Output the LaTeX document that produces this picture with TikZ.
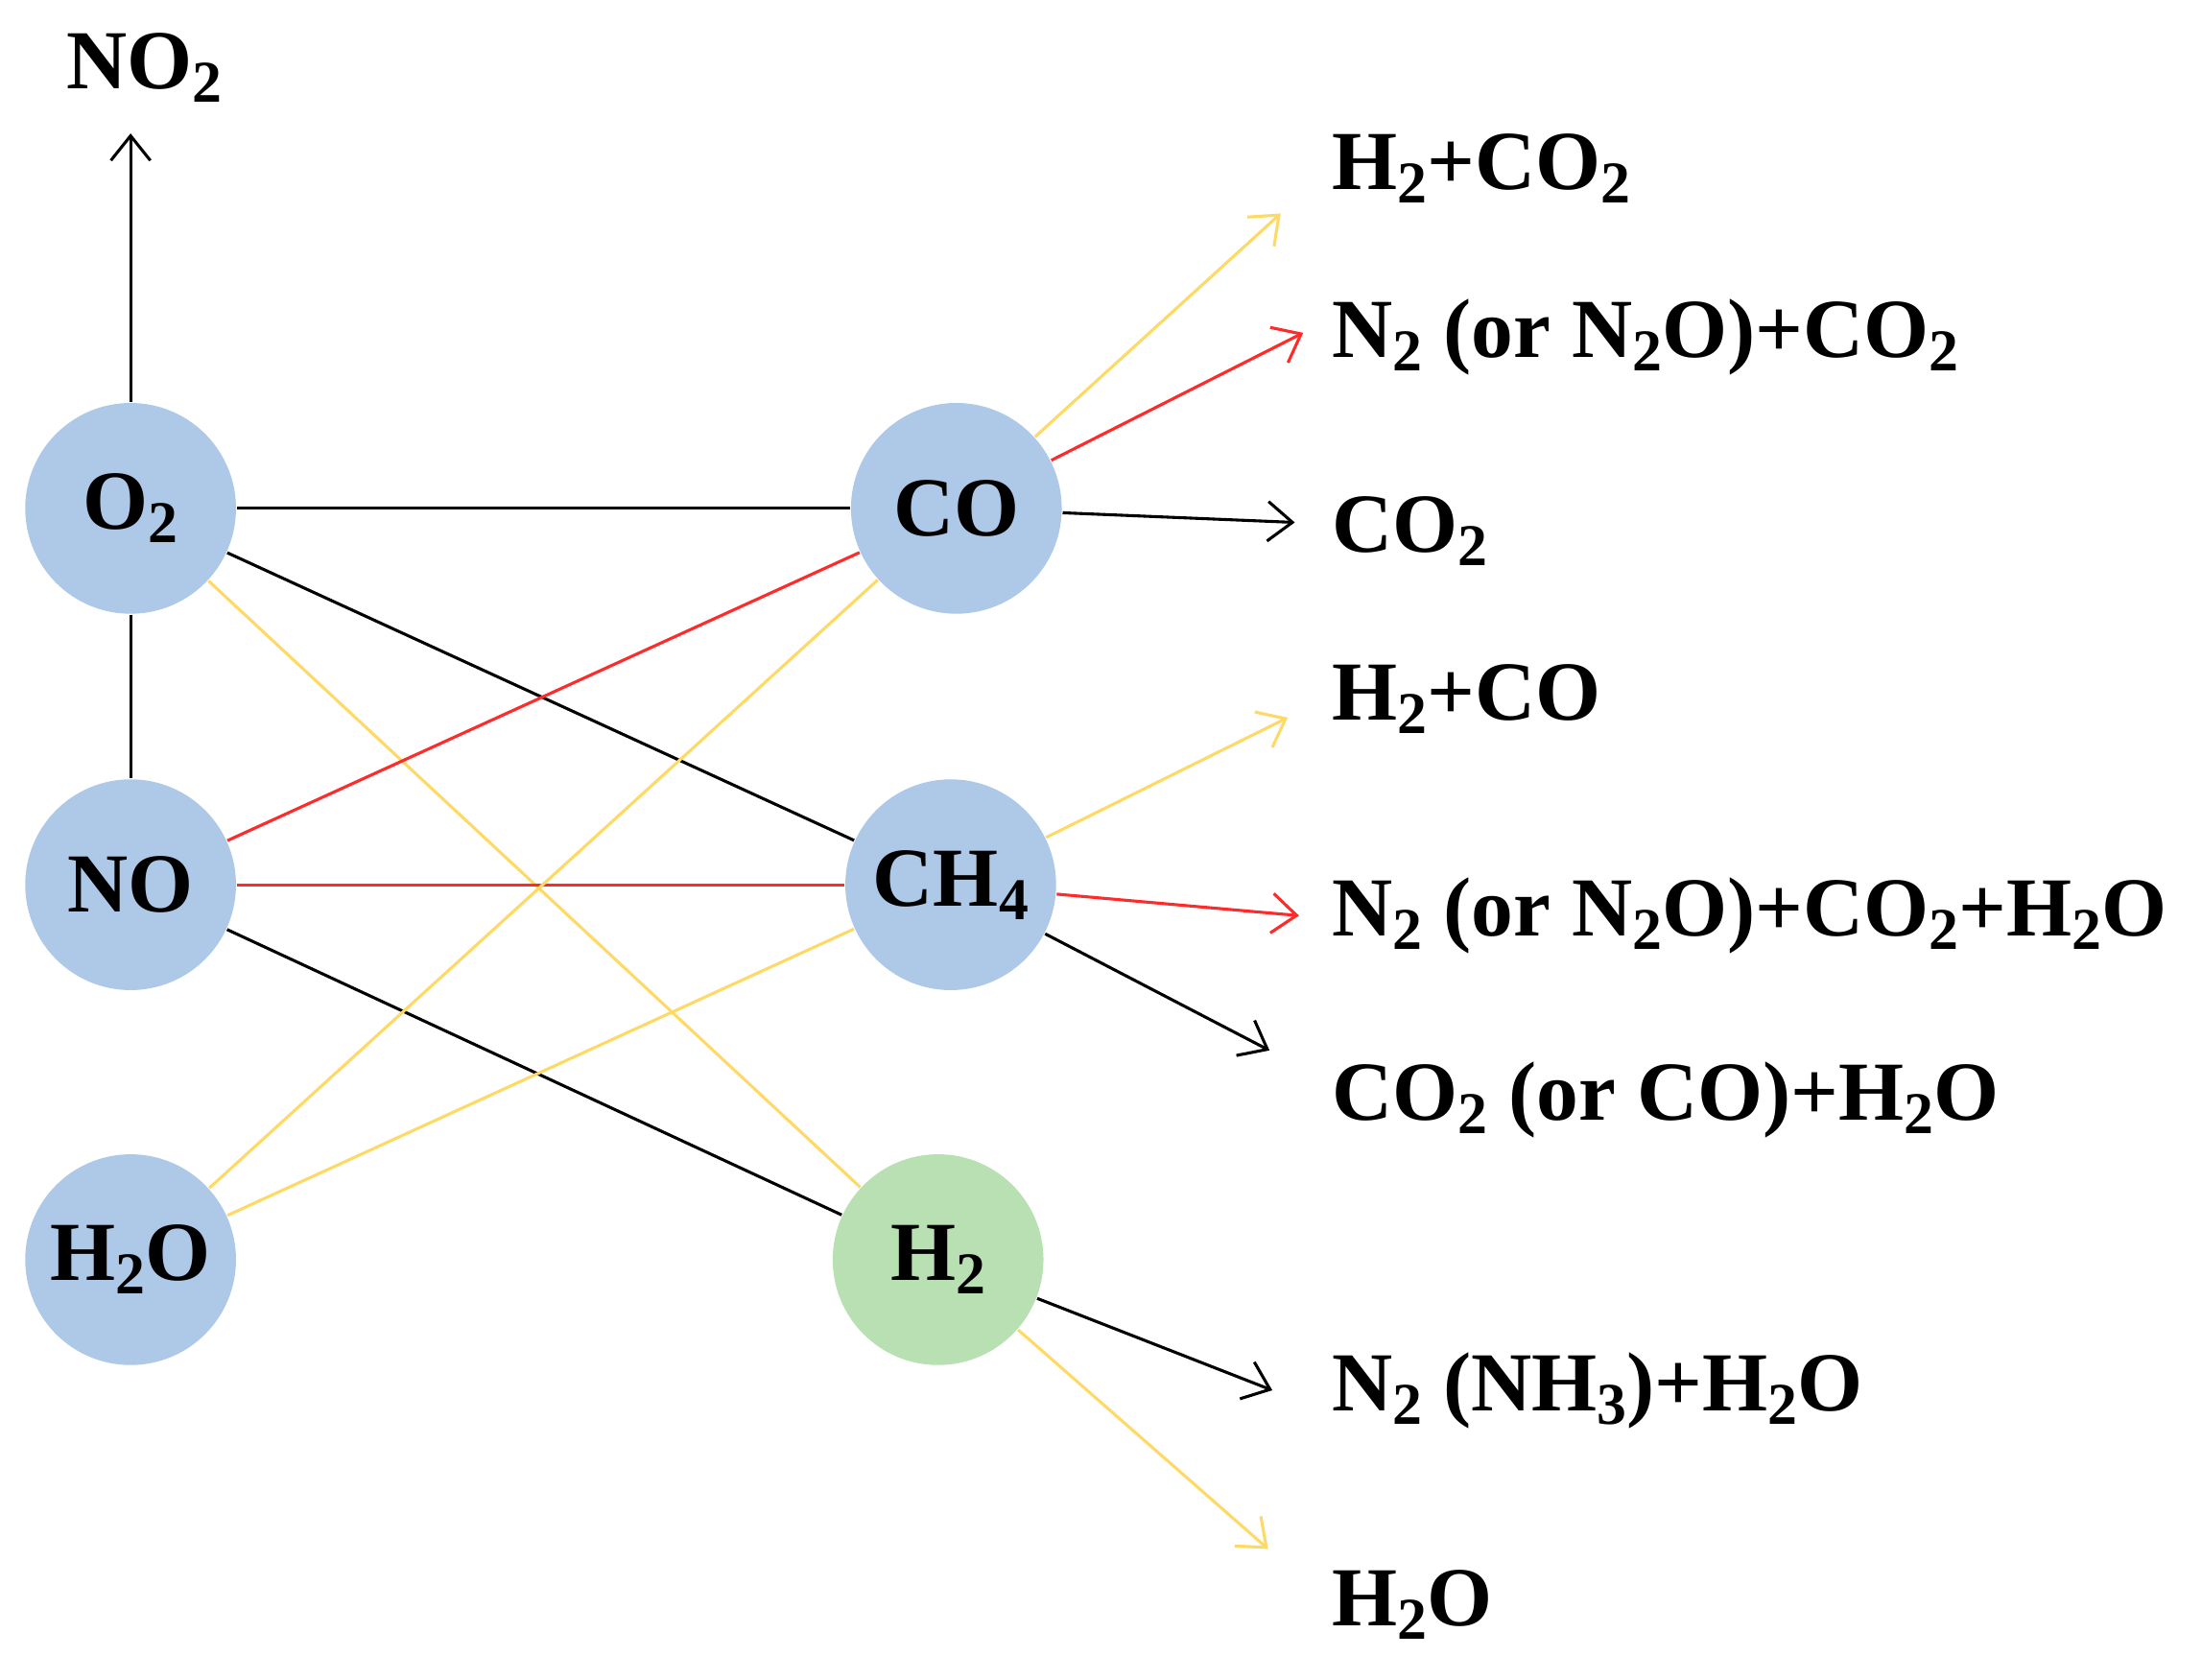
\documentclass[tikz,border=0pt]{standalone}
\usepackage{fontspec}
\setmainfont{Liberation Serif}
\usetikzlibrary{arrows.meta}
\newcommand{\chsb}[1]{\raisebox{-0.35ex}{\fontsize{12}{12}\selectfont #1}}
\definecolor{bluec}{HTML}{AEC8E8}
\definecolor{greenc}{HTML}{B9E0B2}
\definecolor{yel}{HTML}{FFD966}
\definecolor{redl}{HTML}{FF2A2A}
\begin{document}
\begin{tikzpicture}[x=0.01cm,y=-0.01cm,
  mol/.style={circle,fill=bluec,minimum size=1.5cm,inner sep=0pt,font=\fontsize{17}{20}\selectfont\bfseries},
  lab/.style={anchor=west,inner sep=0pt,font=\fontsize{17}{20}\selectfont\bfseries},
  ln/.style={line width=0.6pt},
  arr/.style={line width=0.6pt,-{Straight Barb[length=5pt,width=8pt]}}]
\useasboundingbox (0,0) rectangle (1568,1196);
\node[mol] (O2) at (93,362) {O\chsb{2}};
\node[mol] (NO) at (93,630) {NO};
\node[mol] (H2O) at (93,897) {H\chsb{2}O};
\node[mol] (CO) at (681,362) {CO};
\node[mol] (CH4) at (677,630) {CH\chsb{4}};
\node[mol,fill=greenc] (H2) at (668,897) {H\chsb{2}};
\node[lab,anchor=center] (NO2) at (103,48) {NO\chsb{2}};
\node[lab] (l1) at (948,120) {H\chsb{2}+CO\chsb{2}};
\node[lab] (l2) at (948,240) {N\chsb{2} (or N\chsb{2}O)+CO\chsb{2}};
\node[lab] (l3) at (948,378) {CO\chsb{2}};
\node[lab] (l4) at (948,498) {H\chsb{2}+CO};
\node[lab] (l5) at (948,652) {N\chsb{2} (or N\chsb{2}O)+CO\chsb{2}+H\chsb{2}O};
\node[lab] (l6) at (948,783) {CO\chsb{2} (or CO)+H\chsb{2}O};
\node[lab] (l7) at (948,990) {N\chsb{2} (NH\chsb{3})+H\chsb{2}O};
\node[lab] (l8) at (948,1143) {H\chsb{2}O};
\coordinate (t0) at (93,95);
\coordinate (t1) at (912,152);
\coordinate (t2) at (928,237);
\coordinate (t3) at (922,372);
\coordinate (t4) at (917,511);
\coordinate (t5) at (925,652);
\coordinate (t6) at (904,748);
\coordinate (t7) at (906,990);
\coordinate (t8) at (903,1103);
\draw[arr] (O2) -- (t0);
\draw[ln] (O2) -- (NO);
\draw[ln] (O2.east) -- (CO);
\draw[ln] (O2) -- (CH4);
\draw[ln,yel] (O2) -- (H2);
\draw[ln,redl] (NO) -- (CO);
\draw[ln,redl] (NO) -- (CH4);
\draw[ln] (NO) -- (H2);
\draw[ln,yel] (H2O) -- (CO);
\draw[ln,yel] (H2O) -- (CH4);
\draw[arr,yel] (CO) -- (t1);
\draw[arr,redl] (CO) -- (t2);
\draw[arr] (CO) -- (t3);
\draw[arr,yel] (CH4) -- (t4);
\draw[arr,redl] (CH4) -- (t5);
\draw[arr] (CH4) -- (t6);
\draw[arr] (H2) -- (t7);
\draw[arr,yel] (H2) -- (t8);
\end{tikzpicture}
\end{document}
